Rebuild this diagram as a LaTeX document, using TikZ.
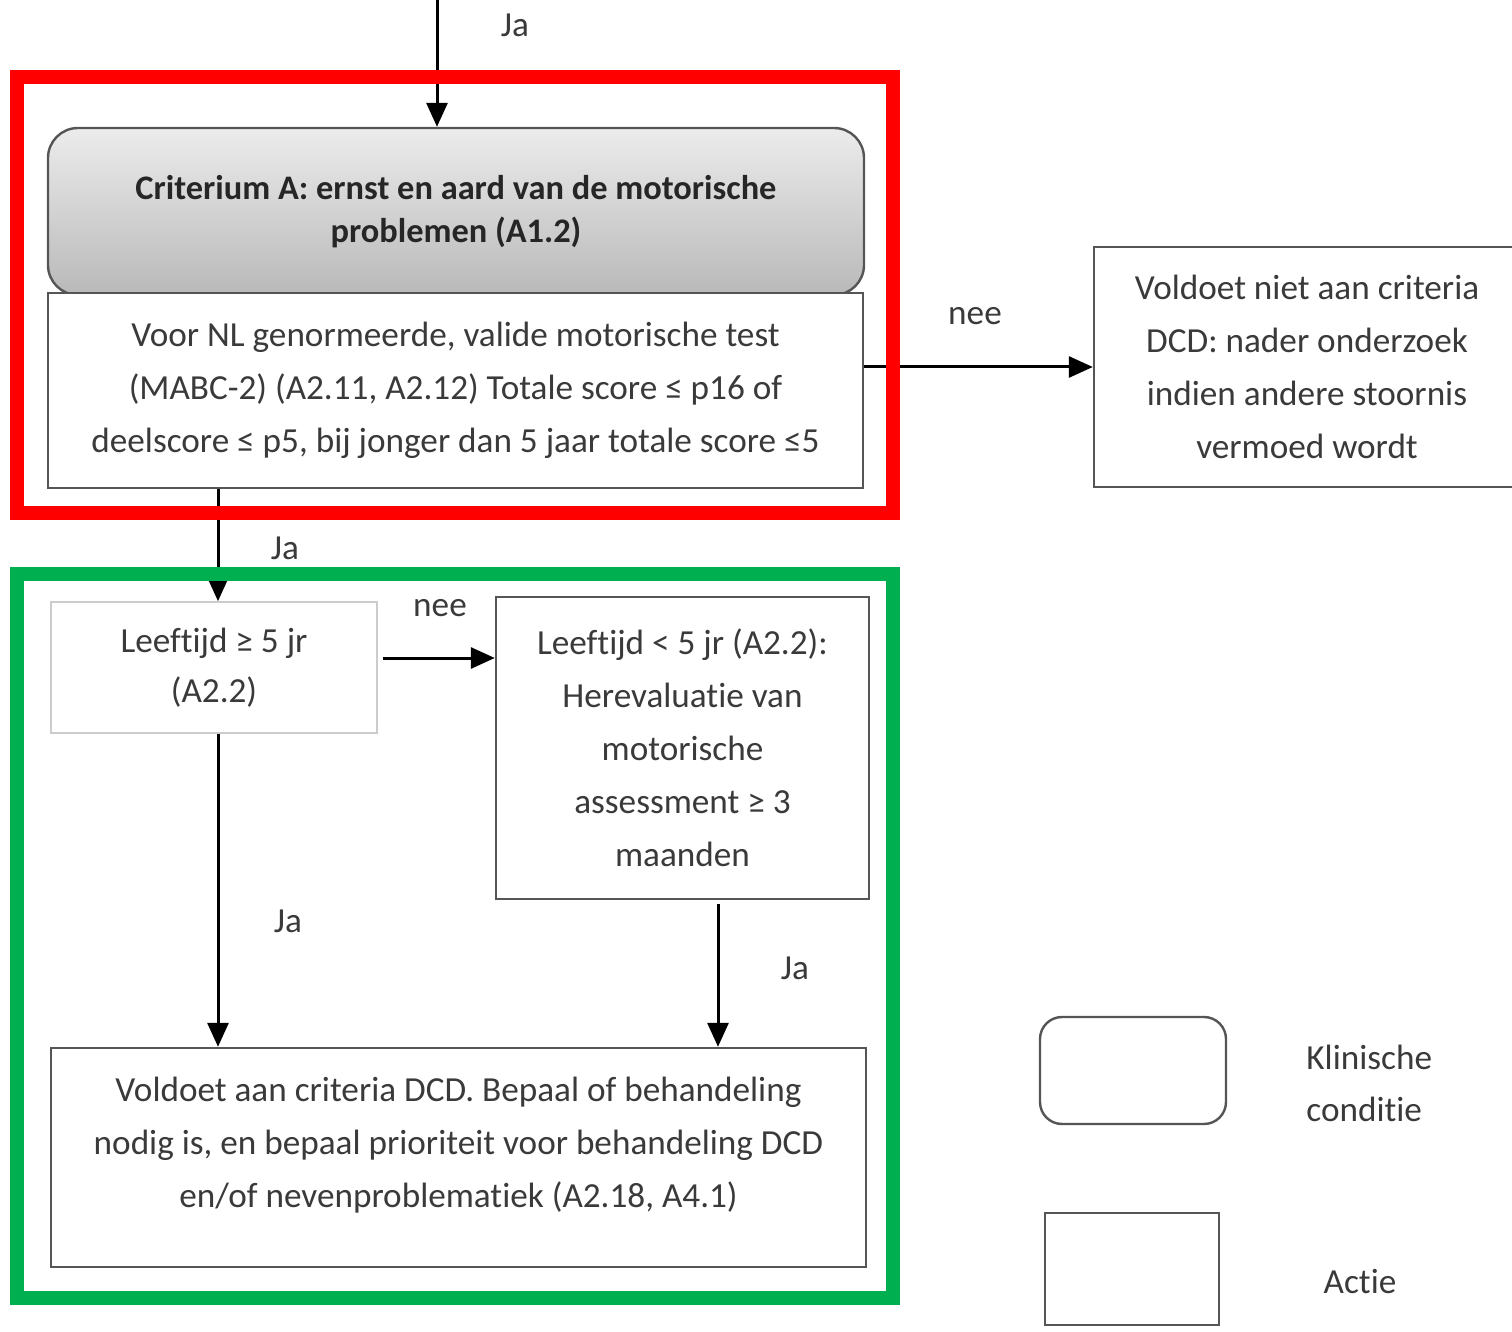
\documentclass[tikz,border=0pt]{standalone}
\usepackage{fontspec}
\setmainfont{Carlito}[Ligatures=NoCommon]
\usetikzlibrary{arrows.meta,calc,positioning}

\definecolor{tekstgrijs}{HTML}{3A3A3A}
\definecolor{randgrijs}{HTML}{555555}
\definecolor{kaderrood}{HTML}{FF0000}
\definecolor{kadergroen}{HTML}{00B050}

\tikzset{
  actie/.style={draw=randgrijs, line width=1.2pt, fill=white, align=center,
    text=tekstgrijs, inner sep=0pt, font=\fontsize{17.6}{26.5}\selectfont},
  klinisch/.style={actie, rounded corners=15pt},
  pijl/.style={-{Triangle[length=12pt,width=10.5pt]}, line width=1.5pt, black},
  antw/.style={text=tekstgrijs, inner sep=0pt, font=\fontsize{17.6}{19}\selectfont},
  kader/.style={line width=7pt}
}

\begin{document}
\begin{tikzpicture}[x=0.5pt,y=-0.5pt]
  \useasboundingbox (0,0) rectangle (1512,1332);

  %% criterium A
  \node[klinisch, top color=gray!15, bottom color=gray!55,
    minimum width=408pt, minimum height=83.5pt,
    font=\bfseries\fontsize{17.2}{23.5}\selectfont, text=black!85]
    (crit) at (456,211.5) {\raisebox{3.5pt}{\begin{tabular}{@{}c@{}}Criterium A: ernst en aard van de motorische\\[-2.2pt]problemen (A1.2)\end{tabular}}};
  \node[actie, minimum width=407.5pt, minimum height=97.5pt]
    (test) at (455.5,390.5)
    {Voor NL genormeerde, valide motorische test\\
     (MABC-2) (A2.11, A2.12) Totale score ≤ p16 of\\
     deelscore ≤ p5, bij jonger dan 5 jaar totale score ≤5};

  \node[actie, minimum width=213pt, minimum height=120pt]
    (niet) at (1307,367)
    {Voldoet niet aan criteria\\ DCD: nader onderzoek\\
     indien andere stoornis\\ vermoed wordt};

  %% leeftijd
  \node[actie, draw=gray!40, line width=0.8pt, minimum width=163pt,
    minimum height=65.5pt, font=\fontsize{17.6}{25}\selectfont]
    (leeft) at (214,667.5) {Leeftijd ≥ 5 jr\\ (A2.2)};
  \node[actie, minimum width=186.5pt, minimum height=151pt]
    (herev) at (682.5,748)
    {Leeftijd < 5 jr (A2.2):\\ Herevaluatie van\\ motorische\\
     assessment ≥ 3\\ maanden};

  \node[actie, minimum width=407.5pt, minimum height=109.5pt]
    (besluit) at (458.5,1157.5) {};
  \node[antw, align=center, font=\fontsize{17.6}{26.5}\selectfont]
    (besluittxt) at (458.5,1145)
    {Voldoet aan criteria DCD. Bepaal of behandeling\\
     nodig is, en bepaal prioriteit voor behandeling DCD\\
     en/of nevenproblematiek (A2.18, A4.1)};

  %% legenda
  \node[klinisch, rounded corners=11pt, minimum width=93pt,
    minimum height=53.5pt] (legklin) at (1133,1070.5) {};
  \node[actie, minimum width=87pt, minimum height=56pt]
    (legactie) at (1132,1269) {};
  \node[antw, anchor=west, align=left, font=\fontsize{17.6}{26}\selectfont]
    (legklintxt) at (1306,1083) {Klinische\\ conditie};
  \node[antw] (legactietxt) at (1360,1282) {Actie};

  %% pijlen
  \coordinate (start) at (437,0);
  \draw[pijl] (start) -- (start |- crit.north);
  \draw[pijl] (niet.west -| test.east) -- (niet.west);
  \draw[pijl] ($(test.south)+(-237.5,0)$) -- (leeft.north -| 218,0);
  \draw[pijl] ($(leeft.east)+(5,-9.5)$) -- (herev.west |- 0,658);
  \draw[pijl] (leeft.south -| 218,0) -- (besluit.north -| 218,0);
  \draw[pijl] ($(herev.south)+(35.5,4)$) -- (besluit.north -| 718,0);

  \node[antw] (ja1) at (515,25) {Ja};
  \node[antw] (nee1) at (975,316) {nee};
  \node[antw] (ja2) at (285,548) {Ja};
  \node[antw] (nee2) at (440,608) {nee};
  \node[antw] (ja3) at (288,921) {Ja};
  \node[antw] (ja4) at (795,968) {Ja};

  %% kaders
  \draw[kader, kaderrood] (17,77) rectangle (893,513);
  \draw[kader, kadergroen] (17,574) rectangle (893,1298);

\end{tikzpicture}
\end{document}
